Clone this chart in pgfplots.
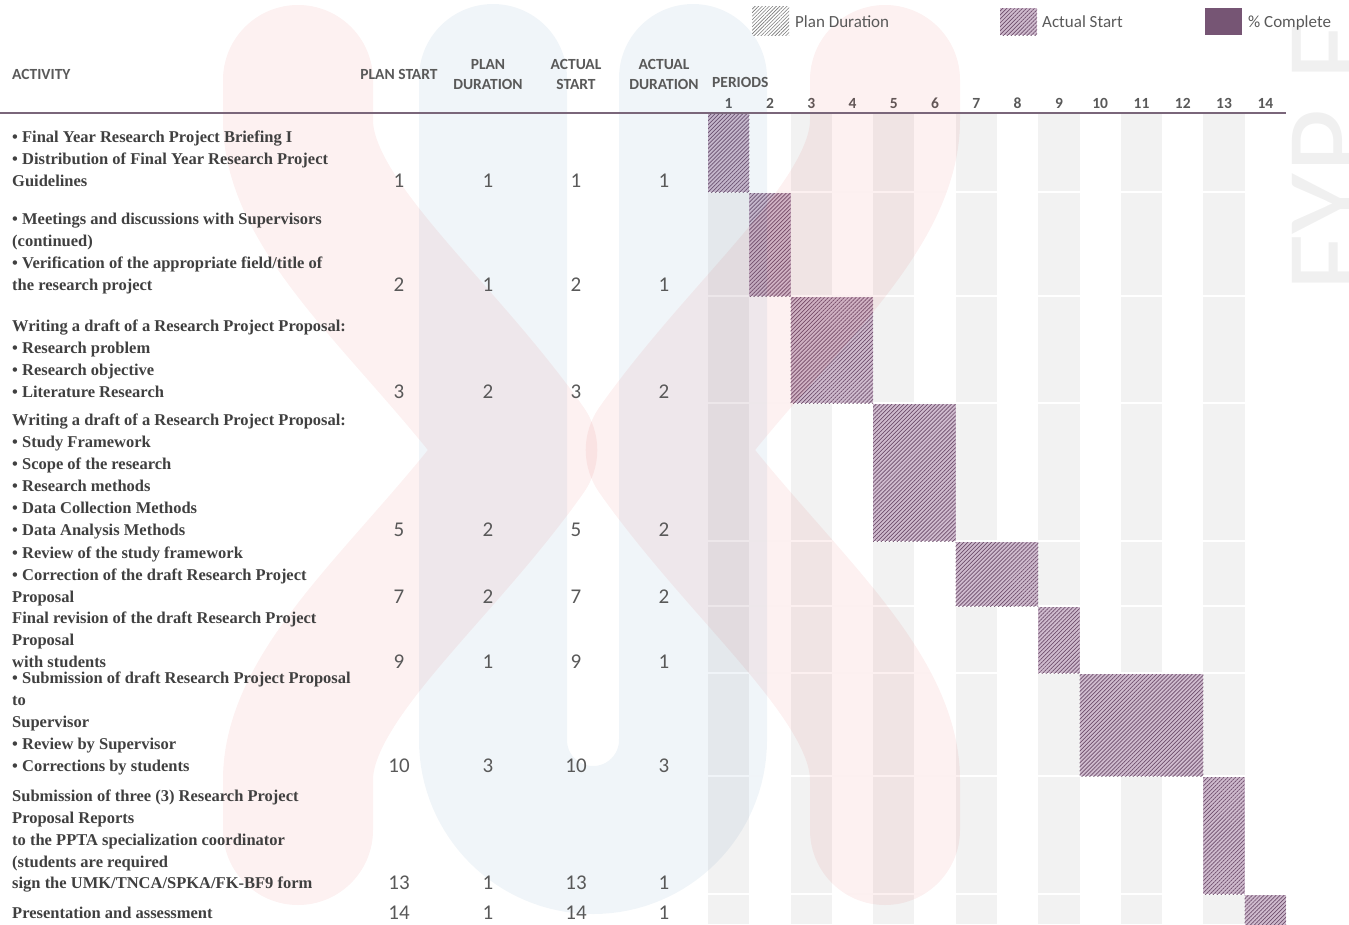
\documentclass[border=0pt]{standalone}
\usepackage{fontspec}
\setmainfont{Liberation Serif}
\newfontfamily\calibri{Carlito}
\usepackage{pgfplots}
\pgfplotsset{compat=1.18}
\usetikzlibrary{patterns.meta}

\definecolor{hdr}{HTML}{595959}
\definecolor{act}{HTML}{404040}
\definecolor{colgray}{HTML}{F2F2F2}
\definecolor{barfill}{HTML}{CFBBCE}
\definecolor{barline}{HTML}{6E4E6C}
\definecolor{complete}{HTML}{765574}
\definecolor{hline}{HTML}{7A667A}
\definecolor{wmred}{RGB}{220,50,50}
\definecolor{wmblue}{RGB}{60,120,170}
\definecolor{fyp}{HTML}{F0F0F0}

\tikzset{barstyle/.style={fill=barfill, draw=none,
  postaction={pattern={Lines[angle=45,distance=2.8pt,line width=0.7pt]}, pattern color=barline}}}

\newcommand\ActL[2]{\node[anchor=base west, inner sep=0pt, text=act,
  font=\bfseries\fontsize{16.5}{20}\selectfont] at (axis cs:12,#1) {#2};}
\newcommand\NumR[5]{%
  \node[anchor=base, inner sep=0pt, text=hdr, font=\calibri\fontsize{21}{21}\selectfont] at (axis cs:399,#1) {#2};
  \node[anchor=base, inner sep=0pt, text=hdr, font=\calibri\fontsize{21}{21}\selectfont] at (axis cs:488,#1) {#3};
  \node[anchor=base, inner sep=0pt, text=hdr, font=\calibri\fontsize{21}{21}\selectfont] at (axis cs:576,#1) {#4};
  \node[anchor=base, inner sep=0pt, text=hdr, font=\calibri\fontsize{21}{21}\selectfont] at (axis cs:664,#1) {#5};}
\newcommand\HdrT[3]{\node[anchor=base, inner sep=0pt, text=hdr,
  font=\calibri\bfseries\fontsize{15.5}{15.5}\selectfont] at (axis cs:#1,#2) {#3};}

\begin{document}
\begin{tikzpicture}
% ---------------- Gantt area ----------------
\begin{axis}[at={(708pt,0pt)}, anchor=south west, scale only axis,
  width=578pt, height=924pt, xmin=0.5, xmax=14.5, ymin=0, ymax=924,
  y dir=reverse, hide axis]
% alternating period columns
\addplot[fill=colgray, draw=none] coordinates {(0.5,113)(1.5,113)(1.5,924)(0.5,924)} -- cycle;
\addplot[fill=colgray, draw=none] coordinates {(2.5,113)(3.5,113)(3.5,924)(2.5,924)} -- cycle;
\addplot[fill=colgray, draw=none] coordinates {(4.5,113)(5.5,113)(5.5,924)(4.5,924)} -- cycle;
\addplot[fill=colgray, draw=none] coordinates {(6.5,113)(7.5,113)(7.5,924)(6.5,924)} -- cycle;
\addplot[fill=colgray, draw=none] coordinates {(8.5,113)(9.5,113)(9.5,924)(8.5,924)} -- cycle;
\addplot[fill=colgray, draw=none] coordinates {(10.5,113)(11.5,113)(11.5,924)(10.5,924)} -- cycle;
\addplot[fill=colgray, draw=none] coordinates {(12.5,113)(13.5,113)(13.5,924)(12.5,924)} -- cycle;
% row separators
\addplot[white, line width=2pt] coordinates {(0.5,192)(14.5,192)};
\addplot[white, line width=2pt] coordinates {(0.5,296)(14.5,296)};
\addplot[white, line width=2pt] coordinates {(0.5,403)(14.5,403)};
\addplot[white, line width=2pt] coordinates {(0.5,541)(14.5,541)};
\addplot[white, line width=2pt] coordinates {(0.5,606)(14.5,606)};
\addplot[white, line width=2pt] coordinates {(0.5,673)(14.5,673)};
\addplot[white, line width=2pt] coordinates {(0.5,776)(14.5,776)};
\addplot[white, line width=2pt] coordinates {(0.5,894)(14.5,894)};
% bars: plan start / duration
\addplot[barstyle] coordinates {(0.5,113)(1.5,113)(1.5,192)(0.5,192)} -- cycle;
\addplot[barstyle] coordinates {(1.5,193)(2.5,193)(2.5,296)(1.5,296)} -- cycle;
\addplot[barstyle] coordinates {(2.5,297)(4.5,297)(4.5,403)(2.5,403)} -- cycle;
\addplot[barstyle] coordinates {(4.5,404)(6.5,404)(6.5,541)(4.5,541)} -- cycle;
\addplot[barstyle] coordinates {(6.5,542)(8.5,542)(8.5,606)(6.5,606)} -- cycle;
\addplot[barstyle] coordinates {(8.5,607)(9.5,607)(9.5,673)(8.5,673)} -- cycle;
\addplot[barstyle] coordinates {(9.5,674)(12.5,674)(12.5,776)(9.5,776)} -- cycle;
\addplot[barstyle] coordinates {(12.5,777)(13.5,777)(13.5,894)(12.5,894)} -- cycle;
\addplot[barstyle] coordinates {(13.5,895)(14.5,895)(14.5,930)(13.5,930)} -- cycle;
% period numbers
\pgfplotsinvokeforeach{1,...,14}{
  \node[anchor=base, inner sep=0pt, text=hdr, font=\calibri\bfseries\fontsize{15.5}{15.5}\selectfont] at (axis cs:#1,108) {#1};
}
\end{axis}

% ---------------- Table / decoration ----------------
\begin{axis}[at={(0pt,0pt)}, anchor=south west, scale only axis,
  width=1349pt, height=924pt, xmin=0, xmax=1349, ymin=0, ymax=924,
  y dir=reverse, hide axis, clip=false]
% watermark
\draw[wmred, opacity=0.07, line width=150pt, line cap=round, line join=round]
  (axis cs:298,80) -- (axis cs:298,120) .. controls (axis cs:298,220) and (axis cs:430,320) .. (axis cs:522,450)
  .. controls (axis cs:430,580) and (axis cs:298,680) .. (axis cs:298,780) -- (axis cs:298,830);
\draw[wmred, opacity=0.07, line width=150pt, line cap=round, line join=round]
  (axis cs:885,80) -- (axis cs:885,120) .. controls (axis cs:885,220) and (axis cs:753,320) .. (axis cs:661,450)
  .. controls (axis cs:753,580) and (axis cs:885,680) .. (axis cs:885,780) -- (axis cs:885,830);
\draw[wmblue, opacity=0.075, line width=148pt, line cap=round, rounded corners=100pt]
  (axis cs:493,78) -- (axis cs:493,840) -- (axis cs:693,840) -- (axis cs:693,78);
\node[rotate=90, anchor=base west, inner sep=0pt, text=fyp,
  font=\calibri\fontsize{125}{125}\selectfont] at (axis cs:1372,292) {FYP F};
% header rule
\addplot[hline, line width=1.6pt] coordinates {(0,113)(1286,113)};
% legend
\path[fill=white, postaction={pattern={Lines[angle=45,distance=2.5pt,line width=0.6pt]}, pattern color=hdr!80}]
  (axis cs:752,6) rectangle (axis cs:789,35);
\node[anchor=base west, inner sep=0pt, text=hdr, font=\calibri\fontsize{17}{17}\selectfont] at (axis cs:795,27) {Plan Duration};
\path[barstyle] (axis cs:1000,8) rectangle (axis cs:1037,35);
\node[anchor=base west, inner sep=0pt, text=hdr, font=\calibri\fontsize{17}{17}\selectfont] at (axis cs:1042,27) {Actual Start};
\path[fill=complete] (axis cs:1205,8) rectangle (axis cs:1242,35);
\node[anchor=base west, inner sep=0pt, text=hdr, font=\calibri\fontsize{17}{17}\selectfont] at (axis cs:1248,27) {\% Complete};
% column headers
\node[anchor=base west, inner sep=0pt, text=hdr, font=\calibri\bfseries\fontsize{15.5}{15.5}\selectfont] at (axis cs:12,79) {ACTIVITY};
\HdrT{399}{79}{PLAN START}
\HdrT{488}{69}{PLAN}
\HdrT{488}{89}{DURATION}
\HdrT{576}{69}{ACTUAL}
\HdrT{576}{89}{START}
\HdrT{664}{69}{ACTUAL}
\HdrT{664}{89}{DURATION}
\node[anchor=base west, inner sep=0pt, text=hdr, font=\calibri\bfseries\fontsize{15.5}{15.5}\selectfont] at (axis cs:712,87) {PERIODS};
% activities
\ActL{142}{• Final Year Research Project Briefing I}
\ActL{164}{• Distribution of Final Year Research Project}
\ActL{186}{Guidelines}
\NumR{187}{1}{1}{1}{1}
\ActL{224}{• Meetings and discussions with Supervisors}
\ActL{246}{(continued)}
\ActL{268}{• Verification of the appropriate field/title of}
\ActL{290}{the research project}
\NumR{291}{2}{1}{2}{1}
\ActL{331}{Writing a draft of a Research Project Proposal:}
\ActL{353}{• Research problem}
\ActL{375}{• Research objective}
\ActL{397}{• Literature Research}
\NumR{398}{3}{2}{3}{2}
\ActL{425}{Writing a draft of a Research Project Proposal:}
\ActL{447}{• Study Framework}
\ActL{469}{• Scope of the research}
\ActL{491}{• Research methods}
\ActL{513}{• Data Collection Methods}
\ActL{535}{• Data Analysis Methods}
\NumR{536}{5}{2}{5}{2}
\ActL{558}{• Review of the study framework}
\ActL{580}{• Correction of the draft Research Project}
\ActL{602}{Proposal}
\NumR{603}{7}{2}{7}{2}
\ActL{623}{Final revision of the draft Research Project}
\ActL{645}{Proposal}
\ActL{667}{with students}
\NumR{668}{9}{1}{9}{1}
\ActL{683}{• Submission of draft Research Project Proposal}
\ActL{705}{to}
\ActL{727}{Supervisor}
\ActL{749}{• Review by Supervisor}
\ActL{771}{• Corrections by students}
\NumR{772}{10}{3}{10}{3}
\ActL{801}{Submission of three (3) Research Project}
\ActL{823}{Proposal Reports}
\ActL{845}{to the PPTA specialization coordinator}
\ActL{867}{(students are required}
\ActL{888}{sign the UMK/TNCA/SPKA/FK-BF9 form}
\NumR{889}{13}{1}{13}{1}
\ActL{918}{Presentation and assessment}
\NumR{919}{14}{1}{14}{1}
\end{axis}
\pgfresetboundingbox
\path (0,0) rectangle (1349pt,924pt);
\end{tikzpicture}
\end{document}
